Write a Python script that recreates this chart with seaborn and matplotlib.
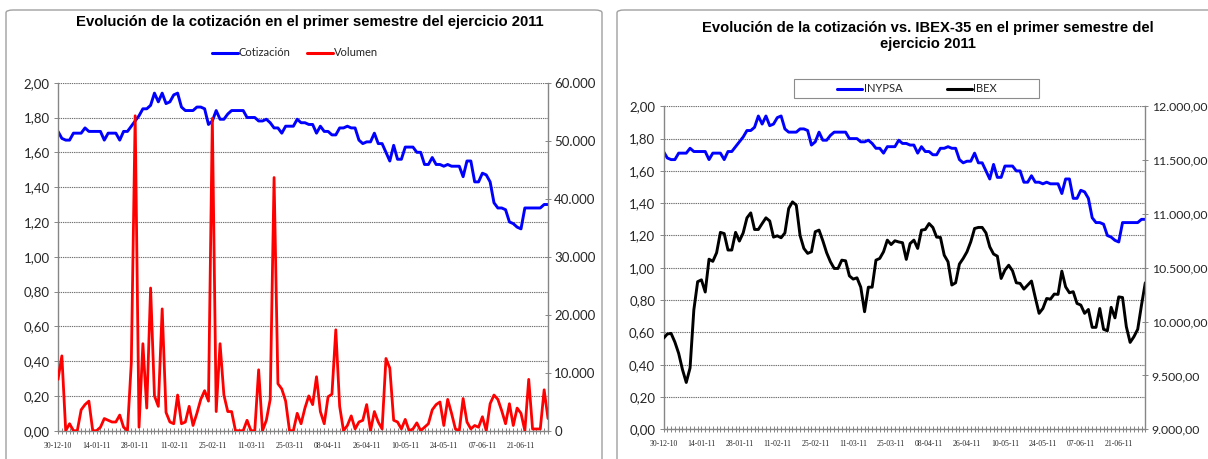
import numpy as np
import pandas as pd
import matplotlib
matplotlib.use("Agg")
import matplotlib.pyplot as plt
import seaborn as sns
from matplotlib.patches import FancyBboxPatch, Rectangle
from matplotlib.lines import Line2D
from matplotlib.ticker import FuncFormatter, MultipleLocator

# -----------------------------
# DATA (one value per trading session)
# -----------------------------
fechas = ["30-12-10", "14-01-11", "28-01-11", "11-02-11", "25-02-11", "11-03-11",
          "25-03-11", "08-04-11", "26-04-11", "10-05-11", "24-05-11", "07-06-11",
          "21-06-11"]

cotizacion = [
    1.72, 1.68, 1.67, 1.67, 1.71, 1.71, 1.71, 1.74, 1.72, 1.72,
    1.72, 1.72, 1.67, 1.71, 1.71, 1.71, 1.67, 1.72, 1.72, 1.75,
    1.78, 1.81, 1.85, 1.85, 1.87, 1.94, 1.89, 1.94, 1.88, 1.89,
    1.93, 1.94, 1.86, 1.84, 1.84, 1.84, 1.86, 1.86, 1.85, 1.76,
    1.78, 1.84, 1.79, 1.79, 1.82, 1.84, 1.84, 1.84, 1.84, 1.80,
    1.80, 1.80, 1.78, 1.78, 1.79, 1.77, 1.74, 1.74, 1.71, 1.75,
    1.75, 1.75, 1.79, 1.77, 1.77, 1.76, 1.76, 1.71, 1.75, 1.72,
    1.72, 1.70, 1.70, 1.74, 1.74, 1.75, 1.74, 1.74, 1.67, 1.65,
    1.66, 1.66, 1.71, 1.65, 1.65, 1.60, 1.55, 1.64, 1.56, 1.56,
    1.63, 1.63, 1.63, 1.60, 1.60, 1.53, 1.53, 1.57, 1.53, 1.53,
    1.52, 1.53, 1.52, 1.52, 1.52, 1.46, 1.55, 1.55, 1.43, 1.43,
    1.48, 1.47, 1.43, 1.31, 1.28, 1.28, 1.27, 1.20, 1.19, 1.17,
    1.16, 1.28, 1.28, 1.28, 1.28, 1.28, 1.30, 1.30,
]

volumen = [
    8850, 12900, 0, 1200, 0, 0, 3600, 4500, 5100, 0,
    0, 600, 2100, 1800, 1500, 1500, 2700, 600, 0, 11700,
    54300, 600, 15000, 3900, 24600, 6000, 4200, 21000, 3150, 1500,
    1200, 6150, 1200, 1500, 4200, 900, 3000, 5400, 6900, 5100,
    53850, 3300, 15000, 6150, 3300, 3300, 0, 0, 0, 1800,
    0, 0, 10500, 0, 1800, 5400, 43650, 8100, 7200, 5100,
    0, 0, 3000, 1200, 3900, 6000, 4500, 9300, 3300, 1200,
    5850, 6300, 17400, 4200, 0, 900, 2550, 300, 1500, 1800,
    4500, 0, 3300, 1500, 300, 12450, 10800, 1800, 1500, 300,
    1950, 0, 300, 1350, 0, 600, 1200, 3600, 4500, 4950,
    900, 5400, 3000, 300, 0, 5550, 1500, 300, 900, 600,
    2400, 0, 4650, 6150, 5400, 3450, 1200, 4650, 900, 3900,
    3000, 0, 8850, 300, 300, 300, 7050, 2100,
]

ibex = [
    9845, 9885, 9891, 9810, 9705, 9555, 9435, 9570, 10110, 10371,
    10388, 10275, 10580, 10560, 10640, 10829, 10818, 10665, 10665, 10829,
    10748, 10824, 10964, 11010, 10856, 10856, 10911, 10964, 10935, 10785,
    10797, 10779, 10824, 11051, 11112, 11082, 10800, 10680, 10634, 10649,
    10835, 10850, 10751, 10640, 10556, 10494, 10494, 10571, 10565, 10425,
    10395, 10407, 10320, 10092, 10320, 10320, 10571, 10587, 10649, 10757,
    10716, 10751, 10740, 10733, 10578, 10725, 10757, 10680, 10850, 10856,
    10911, 10875, 10785, 10782, 10617, 10556, 10340, 10361, 10535, 10587,
    10649, 10742, 10865, 10875, 10875, 10824, 10695, 10628, 10608, 10401,
    10479, 10524, 10472, 10361, 10355, 10302, 10340, 10377, 10224, 10077,
    10122, 10215, 10209, 10256, 10253, 10469, 10323, 10268, 10278, 10169,
    10154, 10077, 10113, 9947, 9947, 10122, 9929, 9915, 10133, 10035,
    10230, 10224, 9953, 9807, 9860, 9929, 10154, 10361,
]

assert len(cotizacion) == len(volumen) == len(ibex)

n = len(cotizacion)
df = pd.DataFrame({
    "sesion": np.arange(n),
    "cotizacion": cotizacion,
    "volumen": volumen,
    "ibex": ibex,
})

# -----------------------------
# STYLE
# -----------------------------
sns.set_theme(style="white")
plt.rcParams["font.family"] = ["Lato", "DejaVu Sans"]

AZUL = "#0000ff"
ROJO = "#ff0000"
EJE = "#868686"
TXT = "#262626"

W, H = 1208, 459
fig = plt.figure(figsize=(W / 100, H / 100), dpi=100)
fig.patch.set_facecolor("white")


def fx(x):
    return x / W


def fy(y):
    return 1 - y / H


def caja(x0, y0, x1, y1):
    fig.patches.append(FancyBboxPatch(
        (fx(x0), fy(y1)), fx(x1 - x0), (y1 - y0) / H,
        boxstyle="round,pad=0,rounding_size=0.006",
        transform=fig.transFigure, fc="none", ec="#a0a0a0", lw=1, zorder=-5))


caja(6, 10, 602, 480)
caja(617, 10, 1230, 480)

fmt_dec = FuncFormatter(lambda v, p: f"{v:.2f}".replace(".", ","))
fmt_vol = FuncFormatter(lambda v, p: f"{v:,.0f}".replace(",", "."))
fmt_ibex = FuncFormatter(
    lambda v, p: f"{v:,.2f}".replace(",", "#").replace(".", ",").replace("#", "."))


def preparar(ax, ax2, size2):
    ax.set_xlim(0, n - 1)
    ax.set_ylim(0, 2)
    ax.patch.set_alpha(0)
    ax.yaxis.set_major_locator(MultipleLocator(0.2))
    ax.yaxis.set_major_formatter(fmt_dec)
    ax.set_xticks(np.arange(0, n, 10)[:len(fechas)])
    ax.set_xticklabels(fechas, family="Liberation Serif", fontsize=5.6, color=TXT)
    ax.set_xticks(df["sesion"], minor=True)
    ax.set_xlabel("")
    ax.set_ylabel("")
    ax2.set_ylabel("")
    ax.grid(axis="y", color="#707070", linestyle=(0, (1.2, 0.8)), linewidth=0.8)
    ax.set_axisbelow(True)
    for s in ["top", "right"]:
        ax.spines[s].set_visible(False)
    for s in ["left", "bottom"]:
        ax.spines[s].set_color(EJE)
        ax.spines[s].set_linewidth(1)
    for s in ["top", "left", "bottom"]:
        ax2.spines[s].set_visible(False)
    ax2.spines["right"].set_color(EJE)
    ax2.spines["right"].set_linewidth(1)
    ax.tick_params(axis="x", which="both", direction="inout", length=4,
                   width=0.7, color=EJE, pad=6, bottom=True)
    ax.tick_params(axis="y", direction="out", length=3, width=0.7, color=EJE,
                   labelsize=9.5, labelcolor=TXT, pad=3, left=True)
    ax2.tick_params(axis="y", direction="inout", length=5, width=0.7, color=EJE,
                    labelsize=size2, labelcolor=TXT, pad=2, right=True)


# -----------------------------
# LEFT CHART: COTIZACION + VOLUMEN
# -----------------------------
ax1 = fig.add_axes([fx(58), fy(430.7), fx(490), 348 / H])
sns.lineplot(data=df, x="sesion", y="cotizacion", ax=ax1, color=AZUL, lw=2.1)
ax1b = ax1.twinx()
sns.lineplot(data=df, x="sesion", y="volumen", ax=ax1b, color=ROJO, lw=2)
ax1b.set_ylim(0, 60000)
ax1b.yaxis.set_major_locator(MultipleLocator(10000))
ax1b.yaxis.set_major_formatter(fmt_vol)
preparar(ax1, ax1b, 9.5)

fig.text(fx(310), fy(22), "Evolución de la cotización en el primer semestre del ejercicio 2011",
         ha="center", va="center", fontsize=10.7, weight="bold",
         family="Liberation Sans", color="black")

h1 = [Line2D([], [], color=AZUL, lw=2.2, label="Cotización"),
      Line2D([], [], color=ROJO, lw=2.2, label="Volumen")]
fig.legend(handles=h1, loc="center", bbox_to_anchor=(fx(295), fy(53)), ncol=2,
           frameon=False, fontsize=8, handlelength=2.3, handletextpad=0.1,
           columnspacing=1.5, labelcolor=TXT)

# -----------------------------
# RIGHT CHART: INYPSA vs IBEX
# -----------------------------
ax3 = fig.add_axes([fx(663.5), fy(429.3), fx(481.8), 323 / H])
sns.lineplot(data=df, x="sesion", y="cotizacion", ax=ax3, color=AZUL, lw=2.1)
ax3b = ax3.twinx()
sns.lineplot(data=df, x="sesion", y="ibex", ax=ax3b, color="black", lw=2.1)
ax3b.set_ylim(9000, 12000)
ax3b.yaxis.set_major_locator(MultipleLocator(500))
ax3b.yaxis.set_major_formatter(fmt_ibex)
preparar(ax3, ax3b, 8.8)

fig.text(fx(928), fy(36),
         "Evolución de la cotización vs. IBEX-35 en el primer semestre del\nejercicio 2011",
         ha="center", va="center", fontsize=10.6, weight="bold", linespacing=1.1,
         family="Liberation Sans", color="black")

fig.patches.append(Rectangle((fx(794), fy(98)), fx(245), 19 / H,
                             transform=fig.transFigure, fc="white", ec="#8c8c8c",
                             lw=0.8, zorder=1))
h2 = [Line2D([], [], color=AZUL, lw=2.2, label="INYPSA"),
      Line2D([], [], color="black", lw=2.2, label="IBEX")]
fig.legend(handles=h2, loc="center", bbox_to_anchor=(fx(917), fy(89)), ncol=2,
           frameon=False, fontsize=8, handlelength=2.3, handletextpad=0.1,
           columnspacing=4, labelcolor=TXT)

plt.savefig("out.png", dpi=100)
plt.close()
